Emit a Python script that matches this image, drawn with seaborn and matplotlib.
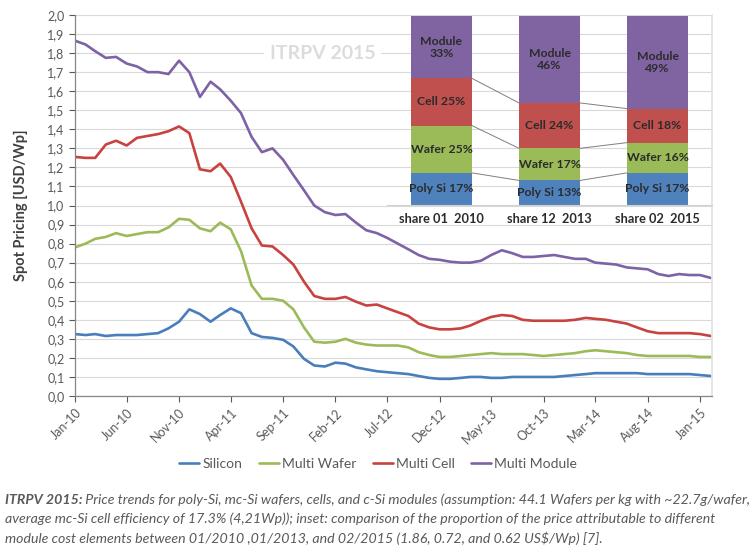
import numpy as np
import pandas as pd
import matplotlib
matplotlib.use("Agg")
import matplotlib.pyplot as plt
import matplotlib.transforms as mtransforms
from matplotlib.ticker import FuncFormatter, MultipleLocator
import seaborn as sns

# ---- datos (USD/Wp, un punto por mes, ene-2010 .. feb-2015) ----
fechas = pd.date_range("2010-01-01", periods=62, freq="MS")

silicon = [0.325, 0.32, 0.325, 0.315, 0.32, 0.32, 0.32, 0.325, 0.33, 0.355,
           0.39, 0.455, 0.43, 0.39, 0.425, 0.46, 0.435, 0.33, 0.31, 0.305,
           0.295, 0.26, 0.195, 0.16, 0.155, 0.175, 0.17, 0.15, 0.14, 0.13,
           0.125, 0.12, 0.115, 0.105, 0.095, 0.09, 0.09, 0.095, 0.10, 0.10,
           0.095, 0.095, 0.10, 0.10, 0.10, 0.10, 0.10, 0.105, 0.11, 0.115,
           0.12, 0.12, 0.12, 0.12, 0.12, 0.115, 0.115, 0.115, 0.115, 0.115,
           0.11, 0.105]

multi_wafer = [0.78, 0.80, 0.825, 0.835, 0.855, 0.84, 0.85, 0.86, 0.86, 0.885,
               0.93, 0.925, 0.88, 0.865, 0.91, 0.875, 0.76, 0.58, 0.51, 0.51,
               0.50, 0.455, 0.36, 0.285, 0.28, 0.285, 0.30, 0.28, 0.27, 0.265,
               0.265, 0.265, 0.255, 0.23, 0.215, 0.205, 0.205, 0.21, 0.215, 0.22,
               0.225, 0.22, 0.22, 0.22, 0.215, 0.21, 0.215, 0.22, 0.225, 0.235,
               0.24, 0.235, 0.23, 0.225, 0.215, 0.21, 0.21, 0.21, 0.21, 0.21,
               0.205, 0.205]

multi_cell = [1.255, 1.25, 1.25, 1.32, 1.34, 1.315, 1.355, 1.365, 1.375, 1.39,
              1.415, 1.38, 1.19, 1.18, 1.22, 1.15, 1.02, 0.88, 0.79, 0.785,
              0.74, 0.69, 0.60, 0.525, 0.51, 0.51, 0.52, 0.495, 0.475, 0.48,
              0.46, 0.44, 0.42, 0.38, 0.36, 0.35, 0.35, 0.355, 0.37, 0.395,
              0.415, 0.425, 0.42, 0.40, 0.395, 0.395, 0.395, 0.395, 0.40, 0.41,
              0.405, 0.40, 0.39, 0.38, 0.36, 0.34, 0.33, 0.33, 0.33, 0.33,
              0.325, 0.315]

multi_module = [1.865, 1.845, 1.81, 1.775, 1.78, 1.745, 1.73, 1.70, 1.70, 1.69,
                1.76, 1.70, 1.57, 1.65, 1.61, 1.55, 1.485, 1.36, 1.28, 1.30,
                1.24, 1.16, 1.08, 1.00, 0.965, 0.95, 0.955, 0.91, 0.87, 0.855,
                0.83, 0.80, 0.77, 0.74, 0.72, 0.715, 0.705, 0.70, 0.70, 0.71,
                0.74, 0.765, 0.75, 0.73, 0.73, 0.735, 0.74, 0.73, 0.72, 0.72,
                0.70, 0.695, 0.69, 0.675, 0.67, 0.665, 0.64, 0.63, 0.64, 0.635,
                0.635, 0.62]

series_nombres = ["Silicon", "Multi Wafer", "Multi Cell", "Multi Module"]
colores = ["#4A7EBB", "#9BBB59", "#C8423F", "#7E62A6"]

# ---- datos del inset (% del precio del módulo) ----
inset_etiquetas = ["share 01  2010", "share 12  2013", "share 02  2015"]
poly_si = [17, 13, 17]
wafer = [25, 17, 16]
cell = [25, 24, 18]
module = [33, 46, 49]
inset_colores = ["#4F81BD", "#9BBB59", "#C0504D", "#8064A2"]

sns.set_theme(style="whitegrid")
plt.rcParams["font.family"] = ["Lato", "DejaVu Sans"]

df = pd.DataFrame({
    "Fecha": np.tile(fechas, 4),
    "Precio": silicon + multi_wafer + multi_cell + multi_module,
    "Serie": np.repeat(series_nombres, len(fechas)),
})

fig = plt.figure(figsize=(7.55, 5.45), dpi=100)
W, H = 755, 545
ax = fig.add_axes([75 / W, 1 - 396 / H, (712 - 75) / W, (396 - 15) / H])

sns.lineplot(data=df, x="Fecha", y="Precio", hue="Serie", hue_order=series_nombres,
             palette=colores, linewidth=1.9, ax=ax, legend=True)

ax.set_ylim(0, 2.0)
ax.set_xlim(pd.Timestamp("2010-01-01"), pd.Timestamp("2015-02-05"))
ax.yaxis.set_major_locator(MultipleLocator(0.1))
ax.yaxis.set_major_formatter(FuncFormatter(lambda v, p: f"{v:.1f}".replace(".", ",")))
ticks_x = pd.date_range("2010-01-01", "2015-01-01", freq="5MS")
ax.set_xticks(ticks_x)
ax.set_xticklabels([d.strftime("%b-%y") for d in ticks_x], rotation=45, ha="right",
                   rotation_mode="anchor")
ax.grid(axis="x", visible=False)
ax.grid(axis="y", color="#D9D9D9", linewidth=0.8)
ax.tick_params(axis="both", colors="#595959", labelsize=9, length=4, width=0.8,
               direction="out", left=True, bottom=True)
for lado in ["left", "bottom"]:
    ax.spines[lado].set_color("#868686")
    ax.spines[lado].set_linewidth(0.9)
ax.spines["top"].set_visible(False)
ax.spines["right"].set_color("#E3E3E3")
ax.set_xlabel("")
ax.set_ylabel("Spot Pricing [USD/Wp]", fontsize=10.5, fontweight="bold", color="#404040",
              labelpad=14)

# marca de agua
trans = mtransforms.blended_transform_factory(ax.transAxes, ax.transData)
ax.text(0.389, 1.8, "ITRPV 2015", transform=trans, ha="center", va="center",
        fontsize=14, fontweight="bold", color="#DCDCDC",
        bbox=dict(facecolor="white", edgecolor="none", pad=4))

# leyenda inferior
handles, labels = ax.get_legend_handles_labels()
ax.get_legend().remove()
fig.legend(handles, labels, loc="center", bbox_to_anchor=(378 / W, 1 - 464 / H), ncol=4,
           frameon=False, fontsize=10, handlelength=1.45, handletextpad=0.2,
           columnspacing=1.2, labelcolor="#595959")

# ---- inset con barras apiladas ----
axi = fig.add_axes([387.5 / W, 1 - 205 / H, 324 / W, 189 / H])
axi.patch.set_alpha(0)
x = np.arange(len(inset_etiquetas))
ancho = 0.565
partes = [("Poly Si", poly_si), ("Wafer", wafer), ("Cell", cell), ("Module", module)]
base = np.zeros(len(x))
niveles = []
for (nombre, vals), col in zip(partes, inset_colores):
    vals = np.array(vals, dtype=float)
    axi.bar(x, vals, bottom=base, width=ancho, color=col, edgecolor="none")
    for i, v in enumerate(vals):
        if nombre == "Module":
            txt = f"{nombre}\n{int(v)}%"
        else:
            txt = f"{nombre} {int(v)}%"
        axi.text(x[i], base[i] + v / 2, txt, ha="center", va="center", fontsize=8.8,
                 fontweight="bold", color="#2B2B2B", linespacing=1.1)
    base = base + vals
    niveles.append(base.copy())
# líneas de serie entre barras
for nivel in niveles[:-1]:
    for i in range(len(x) - 1):
        axi.plot([x[i] + ancho / 2, x[i + 1] - ancho / 2], [nivel[i], nivel[i + 1]],
                 color="#7F7F7F", linewidth=0.7)
axi.set_xlim(-0.5, 2.5)
axi.set_ylim(0, 100)
axi.set_xticks(x)
axi.set_xticklabels(inset_etiquetas, fontsize=9.2, fontweight="bold", color="#2B2B2B")
axi.set_yticks([])
axi.grid(False)
axi.tick_params(axis="x", length=0, pad=6)
for lado in ["left", "right", "top"]:
    axi.spines[lado].set_visible(False)
axi.spines["bottom"].set_color("#D0D0D0")
axi.spines["bottom"].set_linewidth(0.8)

# ---- pie de figura ----
lineas = [
    " Price trends for poly-Si, mc-Si wafers, cells, and c-Si modules (assumption: 44.1 Wafers per kg with ~22.7g/wafer,",
    "average mc-Si cell efficiency of 17.3% (4,21Wp)); inset: comparison of the proportion of the price attributable to different",
    "module cost elements between 01/2010 ,01/2013, and 02/2015 (1.86, 0.72, and 0.62 US$/Wp) [7].",
]
estilo = dict(fontsize=10.2, color="#595959", style="italic", va="center", ha="left")
t0 = fig.text(5 / W, 1 - 500 / H, "ITRPV 2015:", fontweight="bold", **estilo)
fig.canvas.draw()
bb = t0.get_window_extent(renderer=fig.canvas.get_renderer())
fig.text(bb.x1 / W, 1 - 500 / H, lineas[0], **estilo)
fig.text(5 / W, 1 - 519 / H, lineas[1], **estilo)
fig.text(5 / W, 1 - 538 / H, lineas[2], **estilo)

fig.savefig("out.png", dpi=100, facecolor="white")
